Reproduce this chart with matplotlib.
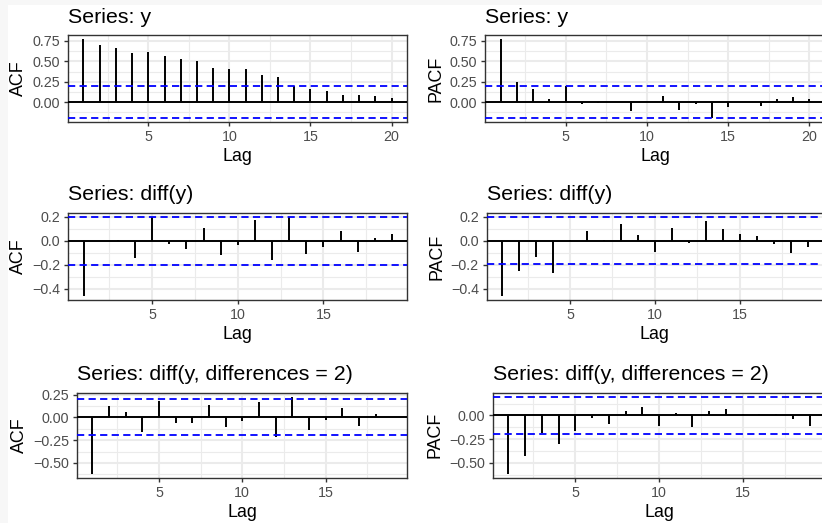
import matplotlib.pyplot as plt
import numpy as np
from matplotlib.patches import Rectangle
from matplotlib.ticker import FixedLocator

plt.rcParams['font.family'] = ['Liberation Sans', 'DejaVu Sans']
plt.rcParams['axes.unicode_minus'] = True

# correlogram values, lag 1 upwards
acf_y = [0.775, 0.70, 0.66, 0.605, 0.62, 0.57, 0.53, 0.50, 0.42, 0.40,
         0.40, 0.335, 0.305, 0.20, 0.155, 0.14, 0.083, 0.083, 0.07, 0.045]
pacf_y = [0.775, 0.25, 0.155, 0.035, 0.20, -0.02, -0.01, -0.005, -0.11, 0.002,
          0.075, -0.095, -0.02, -0.195, -0.055, -0.005, -0.05, 0.035, 0.06, 0.035]
acf_d1 = [-0.46, 0.002, 0.01, -0.145, 0.20, -0.022, -0.065, 0.11, -0.12, -0.03,
          0.175, -0.158, 0.20, -0.11, -0.048, 0.082, -0.09, 0.025, 0.06]
pacf_d1 = [-0.46, -0.255, -0.135, -0.265, 0.002, 0.08, 0.002, 0.135, 0.045, -0.09,
           0.105, -0.02, 0.165, 0.10, 0.055, 0.04, -0.025, -0.10, -0.05]
acf_d2 = [-0.62, 0.128, 0.062, -0.165, 0.186, -0.066, -0.066, 0.139, -0.11, -0.036,
          0.172, -0.215, 0.23, -0.135, -0.026, 0.102, -0.095, 0.036, 0.003]
pacf_d2 = [-0.614, -0.43, -0.19, -0.30, -0.16, -0.024, -0.09, 0.048, 0.093, -0.114,
           0.028, -0.12, 0.048, 0.072, 0.017, 0.01, 0.02, -0.038, -0.11]

ci = [0.196, 0.197, 0.198]
titles = ['Series: y', 'Series: diff(y)', 'Series: diff(y, differences = 2)']
ylabels = ['ACF', 'PACF']

yticks = [[0, 0.25, 0.5, 0.75], [-0.4, -0.2, 0, 0.2], [-0.5, -0.25, 0, 0.25]]
yticklabels = [['0.00', '0.25', '0.50', '0.75'],
               ['\u22120.4', '\u22120.2', '0.0', '0.2'],
               ['\u22120.50', '\u22120.25', '0.00', '0.25']]
yminor = [[-0.125, 0.125, 0.375, 0.625], [-0.3, -0.1, 0.1],
          [-0.625, -0.375, -0.125, 0.125]]

series = [[acf_y, pacf_y], [acf_d1, pacf_d1], [acf_d2, pacf_d2]]

# panel boxes in pixels: left, right, top, bottom
W, H = 822, 523
boxes = [[(68, 407, 35, 122), (485.3, 824.8, 35, 122)],
         [(68.3, 407.3, 213, 300), (486.8, 822.9, 213, 300)],
         [(77.3, 407.3, 392.7, 477.7), (493.3, 824.7, 392.7, 477.7)]]

fig = plt.figure(figsize=(W / 100, H / 100), dpi=100)
fig.patches.append(Rectangle((0, 0), 8 / W, 1, transform=fig.transFigure,
                             facecolor='#f7f7f7', edgecolor='none', zorder=-5))
fig.patches.append(Rectangle((0, 1 - 4.5 / H), 1, 4.5 / H, transform=fig.transFigure,
                             facecolor='#f7f7f7', edgecolor='none', zorder=-5))

for r in range(3):
    for c in range(2):
        vals = np.array(series[r][c])
        lags = np.arange(1, len(vals) + 1)
        l, rr, t, b = boxes[r][c]
        ax = fig.add_axes([l / W, 1 - b / H, (rr - l) / W, (b - t) / H])

        ax.vlines(lags, 0, vals, colors='black', lw=1.4, zorder=3)
        ax.axhline(0, color='black', lw=1.4, zorder=3)
        for s in (ci[r], -ci[r]):
            ax.axhline(s, color='blue', lw=1.3, dashes=(4, 2.4), zorder=4)

        lo = min(vals.min(), -ci[r], 0)
        hi = max(vals.max(), ci[r], 0)
        pad = (hi - lo) * 0.05
        ax.set_ylim(lo - pad, hi + pad)
        xpad = (lags[-1] - 1) * 0.05
        ax.set_xlim(1 - xpad, lags[-1] + xpad)

        xt = [5, 10, 15, 20] if lags[-1] >= 20 else [5, 10, 15]
        ax.set_xticks(xt)
        ax.set_xticklabels([str(v) for v in xt])
        ax.xaxis.set_minor_locator(FixedLocator([2.5, 7.5, 12.5, 17.5]))
        yt = [v for v in yticks[r] if lo - pad <= v <= hi + pad]
        ylab = [yticklabels[r][i] for i, v in enumerate(yticks[r]) if lo - pad <= v <= hi + pad]
        ax.set_yticks(yt)
        ax.set_yticklabels(ylab)
        ax.yaxis.set_minor_locator(FixedLocator(yminor[r]))

        ax.grid(which='major', color='#ebebeb', lw=1.5, zorder=0)
        ax.grid(which='minor', color='#ebebeb', lw=0.8, zorder=0)
        ax.set_axisbelow(True)
        ax.tick_params(which='major', length=3.2, width=1.0, color='#333333',
                       labelsize=10.3, labelcolor='#4d4d4d', pad=2.5)
        ax.tick_params(which='minor', length=0)
        for sp in ax.spines.values():
            sp.set_color('#333333')
            sp.set_linewidth(1.0)

        ax.set_title(titles[r], loc='left', fontsize=15.4, pad=9)
        ax.set_xlabel('Lag', fontsize=12.9, labelpad=3)
        ax.set_ylabel(ylabels[c], fontsize=12.9, labelpad=4)

fig.savefig('out.png', dpi=100)
